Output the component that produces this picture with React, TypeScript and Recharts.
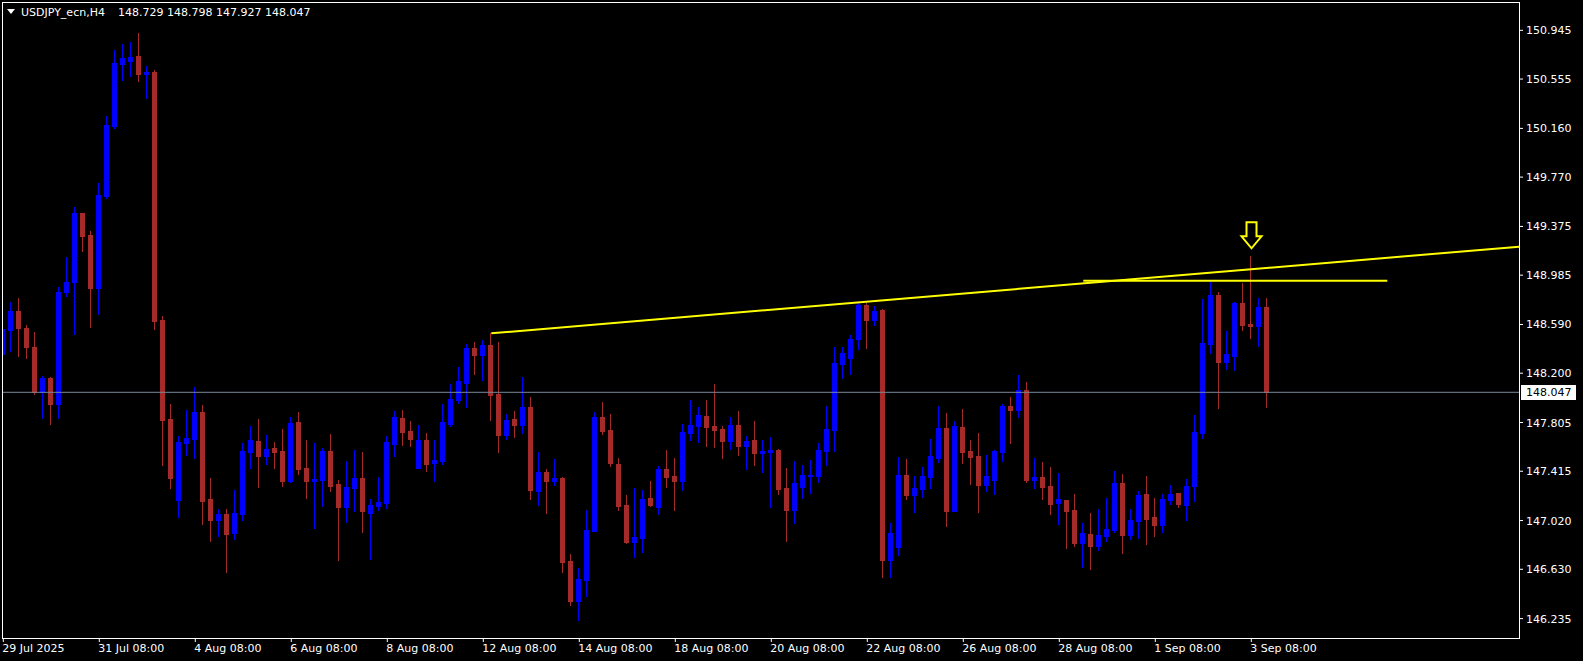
import React from 'react';
import { ComposedChart, Bar, XAxis, YAxis, ReferenceLine, ReferenceDot } from 'recharts';

// ---- data (USDJPY_ecn, H4) ----
const opens = [
  148.351, 148.549, 148.698, 148.562, 148.410, 148.052, 148.159, 147.956, 148.848, 148.928,
  149.483, 149.307, 148.880, 149.622, 150.182, 150.678, 150.699, 150.740, 150.598, 150.611,
  148.625, 147.833, 147.184, 147.641, 147.673, 147.889, 147.192, 147.024, 147.072, 146.920,
  147.072, 147.569, 147.657, 147.539, 147.601, 147.577, 147.339, 147.809, 147.441, 147.339,
  147.347, 147.577, 147.312, 147.131, 147.283, 147.360, 147.083, 147.137, 147.161, 147.636,
  147.841, 147.737, 147.444, 147.665, 147.481, 147.497, 147.796, 147.988, 148.122, 148.402,
  148.346, 148.426, 148.034, 147.706, 147.834, 147.786, 147.930, 147.257, 147.409, 147.337,
  147.361, 146.697, 146.376, 146.545, 146.937, 147.850, 147.746, 147.473, 147.145, 146.849,
  146.881, 147.201, 147.129, 147.433, 147.377, 147.337, 147.722, 147.778, 147.858, 147.778,
  147.754, 147.658, 147.786, 147.618, 147.666, 147.561, 147.569, 147.585, 147.281, 147.105,
  147.289, 147.380, 147.377, 147.577, 147.745, 148.274, 148.322, 148.474, 148.746, 148.626,
  148.706, 146.704, 146.808, 147.385, 147.225, 147.273, 147.369, 147.521, 147.761, 147.097,
  147.769, 147.577, 147.537, 147.305, 147.345, 147.569, 147.938, 147.906, 148.066, 147.345,
  147.369, 147.297, 147.161, 147.185, 147.105, 146.841, 146.913, 146.817, 146.897, 146.945,
  147.321, 146.905, 147.017, 147.233, 147.049, 146.985, 147.185, 147.241, 147.145, 147.297,
  147.722, 148.434, 148.826, 148.290, 148.338, 148.762, 148.594, 148.578, 148.729,
];
const highs = [
  148.746, 148.768, 148.800, 148.586, 148.530, 148.178, 148.170, 148.890, 149.131, 149.531,
  149.483, 149.336, 149.720, 150.259, 150.788, 150.836, 150.850, 150.920, 150.659, 150.627,
  148.657, 147.953, 147.697, 147.905, 148.089, 147.945, 147.360, 147.112, 147.112, 147.264,
  147.641, 147.777, 147.833, 147.705, 147.649, 147.753, 147.849, 147.889, 147.665, 147.641,
  147.601, 147.713, 147.344, 147.497, 147.585, 147.569, 147.192, 147.369, 147.697, 147.897,
  147.905, 147.817, 147.785, 147.721, 147.665, 147.953, 148.114, 148.250, 148.434, 148.450,
  148.466, 148.519, 148.450, 147.874, 147.898, 148.170, 148.010, 147.569, 147.433, 147.513,
  147.369, 146.753, 146.641, 147.105, 147.890, 147.970, 147.874, 147.521, 147.225, 147.281,
  147.265, 147.337, 147.457, 147.585, 147.521, 147.794, 147.986, 147.930, 147.986, 148.114,
  147.778, 147.850, 147.898, 147.698, 147.818, 147.665, 147.689, 147.593, 147.441, 147.497,
  147.465, 147.505, 147.641, 147.937, 148.410, 148.410, 148.506, 148.762, 148.762, 148.738,
  148.714, 147.001, 147.529, 147.513, 147.377, 147.449, 147.673, 147.937, 147.881, 147.817,
  147.913, 147.665, 147.721, 147.545, 147.585, 147.953, 148.010, 148.186, 148.130, 147.521,
  147.489, 147.449, 147.401, 147.185, 147.233, 147.001, 147.081, 147.113, 147.201, 147.417,
  147.393, 147.113, 147.257, 147.377, 147.201, 147.233, 147.305, 147.241, 147.353, 147.866,
  148.794, 148.931, 148.851, 148.538, 148.770, 148.923, 149.139, 148.802, 148.798,
];
const lows = [
  148.146, 148.381, 148.341, 148.325, 148.036, 147.844, 147.796, 147.844, 148.821, 148.517,
  149.181, 148.573, 148.671, 149.606, 150.166, 150.550, 150.582, 150.542, 150.405, 148.556,
  147.464, 147.283, 147.048, 147.544, 147.520, 146.992, 146.856, 146.896, 146.608, 146.872,
  147.024, 147.440, 147.291, 147.475, 147.443, 147.299, 147.331, 147.395, 147.203, 146.963,
  147.139, 147.259, 146.704, 147.011, 147.099, 146.931, 146.715, 147.105, 147.121, 147.537,
  147.625, 147.617, 147.444, 147.420, 147.340, 147.473, 147.777, 147.962, 147.930, 148.196,
  148.148, 147.825, 147.569, 147.674, 147.690, 147.722, 147.193, 147.145, 147.081, 147.305,
  146.609, 146.344, 146.220, 146.416, 146.937, 147.714, 147.457, 147.105, 146.841, 146.731,
  146.771, 147.137, 147.073, 147.289, 147.105, 147.265, 147.666, 147.650, 147.618, 147.610,
  147.521, 147.593, 147.545, 147.433, 147.465, 147.409, 147.129, 147.233, 146.856, 147.001,
  147.201, 147.241, 147.329, 147.465, 147.577, 148.161, 148.193, 148.394, 148.402, 148.586,
  146.571, 146.571, 146.744, 147.193, 147.089, 147.209, 147.281, 147.489, 146.977, 147.097,
  147.481, 147.313, 147.089, 147.257, 147.233, 147.497, 147.642, 147.850, 147.329, 147.281,
  147.193, 147.073, 146.993, 146.801, 146.817, 146.649, 146.633, 146.785, 146.857, 146.929,
  146.761, 146.873, 146.880, 146.830, 146.900, 146.930, 147.153, 147.129, 147.025, 147.177,
  147.682, 148.362, 147.922, 148.234, 148.226, 148.546, 148.482, 148.418, 147.927,
];
const closes = [
  148.554, 148.698, 148.559, 148.413, 148.052, 148.159, 147.956, 148.848, 148.928, 149.483,
  149.301, 148.880, 149.627, 150.187, 150.684, 150.721, 150.730, 150.595, 150.611, 148.620,
  147.825, 147.363, 147.649, 147.681, 147.889, 147.176, 147.024, 147.072, 146.912, 147.080,
  147.577, 147.665, 147.539, 147.593, 147.571, 147.339, 147.801, 147.435, 147.339, 147.352,
  147.577, 147.299, 147.131, 147.288, 147.360, 147.099, 147.144, 147.169, 147.649, 147.849,
  147.732, 147.673, 147.665, 147.476, 147.505, 147.809, 147.994, 148.138, 148.402, 148.346,
  148.426, 148.028, 147.705, 147.826, 147.786, 147.930, 147.265, 147.409, 147.337, 147.361,
  146.689, 146.376, 146.553, 146.945, 147.850, 147.738, 147.481, 147.137, 146.849, 146.886,
  147.193, 147.145, 147.433, 147.369, 147.337, 147.730, 147.786, 147.866, 147.770, 147.746,
  147.658, 147.786, 147.618, 147.658, 147.561, 147.577, 147.585, 147.273, 147.105, 147.321,
  147.385, 147.385, 147.585, 147.753, 148.282, 148.362, 148.474, 148.746, 148.626, 148.698,
  146.704, 146.920, 147.385, 147.225, 147.281, 147.377, 147.537, 147.761, 147.097, 147.777,
  147.569, 147.529, 147.305, 147.377, 147.577, 147.937, 147.906, 148.066, 147.345, 147.369,
  147.289, 147.153, 147.193, 147.097, 146.841, 146.921, 146.817, 146.905, 146.953, 147.321,
  146.905, 147.025, 147.225, 147.033, 146.985, 147.193, 147.233, 147.153, 147.297, 147.730,
  148.442, 148.826, 148.290, 148.354, 148.762, 148.586, 148.578, 148.730, 148.047,
];

const timeTickIdx = [0, 12, 24, 36, 48, 60, 72, 84, 96, 108, 120, 132, 144, 156];
const timeTickLabels = [
  '29 Jul 2025', '31 Jul 08:00', '4 Aug 08:00', '6 Aug 08:00', '8 Aug 08:00', '12 Aug 08:00',
  '14 Aug 08:00', '18 Aug 08:00', '20 Aug 08:00', '22 Aug 08:00', '26 Aug 08:00', '28 Aug 08:00',
  '1 Sep 08:00', '3 Sep 08:00',
];
const priceTicks = [150.945, 150.555, 150.16, 149.77, 149.375, 148.985, 148.59, 148.2, 147.805, 147.415, 147.02, 146.63, 146.235];
const priceTickLabels = ['150.945', '150.555', '150.160', '149.770', '149.375', '148.985', '148.590', '148.200', '147.805', '147.415', '147.020', '146.630', '146.235'];

const symbolTitle = 'USDJPY_ecn,H4';
const ohlcTitle = '148.729 148.798 147.927 148.047';
const lastPrice = 148.047;
const trendLine = [{ x: 61, y: 148.519 }, { x: 189.4625, y: 149.213 }];
const levelLine = [{ x: 135, y: 148.94 }, { x: 173, y: 148.94 }];
const arrowPoint = { x: 156, y: 149.2 };

const data = opens.map((o, i) => ({
  i,
  open: o,
  high: highs[i],
  low: lows[i],
  close: closes[i],
  range: [lows[i], highs[i]],
}));

// ---- layout ----
const W = 1583;
const H = 661;
const PLOT_LEFT = 2;
const PLOT_TOP = 2;
const AXIS_W = 64;
const AXIS_H = 23;
const Y_MIN = 146.0798;
const Y_MAX = 151.1719;
const X_MIN = -0.1625;
const X_MAX = 189.4625;
const FONT = '"DejaVu Sans", Verdana, sans-serif';
const BULL = '#0000FF';
const BEAR = '#A52A2A';

function Candle(props: any) {
  const { x, y, width, height, payload } = props;
  if (x == null || y == null || !payload) return null;
  const { open, close, high, low } = payload;
  const k = high > low ? height / (high - low) : 0;
  const py = (p: number) => y + (high - p) * k;
  const cx = Math.floor(x + width / 2);
  const yH = Math.round(py(high));
  const yL = Math.round(py(low));
  const yO = Math.round(py(open));
  const yC = Math.round(py(close));
  const color = close >= open ? BULL : BEAR;
  const top = Math.min(yO, yC);
  const bot = Math.max(yO, yC);
  return (
    <g>
      <rect x={cx} y={yH} width={1} height={Math.max(1, yL - yH + 1)} fill={color} shapeRendering="crispEdges" />
      <rect x={cx - 2} y={top} width={5} height={Math.max(1, bot - top + 1)} fill={color} shapeRendering="crispEdges" />
    </g>
  );
}

function TimeTick(props: any) {
  const { x, y, payload } = props;
  const idx = timeTickIdx.indexOf(payload.value);
  return (
    <text x={x - 1} y={y + 10} fill="#FFFFFF" fontSize={11} fontFamily={FONT} textAnchor="start">
      {idx >= 0 ? timeTickLabels[idx] : ''}
    </text>
  );
}

function PriceTick(props: any) {
  const { x, y, payload } = props;
  const idx = priceTicks.indexOf(payload.value);
  return (
    <text x={x} y={y + 4} fill="#FFFFFF" fontSize={11} fontFamily={FONT} textAnchor="start">
      {idx >= 0 ? priceTickLabels[idx] : ''}
    </text>
  );
}

function PriceTag(props: any) {
  const { cy } = props;
  if (cy == null) return null;
  const x0 = PLOT_LEFT + (W - PLOT_LEFT - AXIS_W) + 2;
  const yc = Math.round(cy);
  return (
    <g>
      <rect x={x0} y={yc - 7} width={55} height={15} fill="#FFFFFF" />
      <text x={x0 + 5} y={yc + 4} fill="#000000" fontSize={11} fontFamily={FONT} textAnchor="start">
        {lastPrice.toFixed(3)}
      </text>
    </g>
  );
}

function ArrowShape(props: any) {
  const { cx, cy } = props;
  if (cx == null || cy == null) return null;
  const x = Math.floor(cx) + 0.5;
  const y = cy;
  const d = `M ${x - 5} ${y - 26} L ${x + 5} ${y - 26} L ${x + 5} ${y - 12} L ${x + 10} ${y - 12} L ${x} ${y} L ${x - 10} ${y - 12} L ${x - 5} ${y - 12} Z`;
  return <path d={d} fill="none" stroke="#FFFF00" strokeWidth={2} strokeLinejoin="miter" />;
}

export default function App() {
  return (
    <div style={{ position: 'absolute', left: 0, top: 0, width: W, height: H, background: '#000000', overflow: 'hidden' }}>
      <ComposedChart
        width={W}
        height={H}
        data={data}
        margin={{ top: PLOT_TOP, left: PLOT_LEFT, right: 0, bottom: 0 }}
      >
        <XAxis
          dataKey="i"
          type="number"
          domain={[X_MIN, X_MAX]}
          allowDataOverflow
          ticks={timeTickIdx}
          interval={0}
          height={AXIS_H}
          axisLine={false}
          tickLine={{ stroke: '#FFFFFF' }}
          tickSize={4}
          tickMargin={0}
          tick={<TimeTick />}
        />
        <YAxis
          orientation="right"
          type="number"
          domain={[Y_MIN, Y_MAX]}
          allowDataOverflow
          ticks={priceTicks}
          interval={0}
          width={AXIS_W}
          axisLine={false}
          tickLine={{ stroke: '#FFFFFF' }}
          tickSize={4}
          tickMargin={3}
          tick={<PriceTick />}
        />
        <ReferenceLine y={lastPrice} stroke="#778899" strokeWidth={1} />
        <Bar dataKey="range" barSize={5} isAnimationActive={false} shape={<Candle />} />
        <ReferenceLine segment={trendLine} stroke="#FFFF00" strokeWidth={2} ifOverflow="visible" />
        <ReferenceLine segment={levelLine} stroke="#FFFF00" strokeWidth={2} ifOverflow="visible" />
        <ReferenceDot x={arrowPoint.x} y={arrowPoint.y} r={0} ifOverflow="visible" shape={<ArrowShape />} />
        <ReferenceDot x={X_MAX} y={lastPrice} r={0} ifOverflow="visible" shape={<PriceTag />} />
      </ComposedChart>
      <div
        style={{
          position: 'absolute',
          left: PLOT_LEFT,
          top: PLOT_TOP,
          width: W - PLOT_LEFT - AXIS_W - 1,
          height: H - PLOT_TOP - AXIS_H - 1,
          border: '1px solid #FFFFFF',
          pointerEvents: 'none',
        }}
      />
      <svg width={340} height={22} style={{ position: 'absolute', left: 0, top: 0 }}>
        <polygon points="7,9 15,9 11,14" fill="#FFFFFF" />
        <text x={21} y={16} fill="#FFFFFF" fontSize={11} fontFamily={FONT}>{symbolTitle}</text>
        <text x={118} y={16} fill="#FFFFFF" fontSize={11} fontFamily={FONT}>{ohlcTitle}</text>
      </svg>
    </div>
  );
}
